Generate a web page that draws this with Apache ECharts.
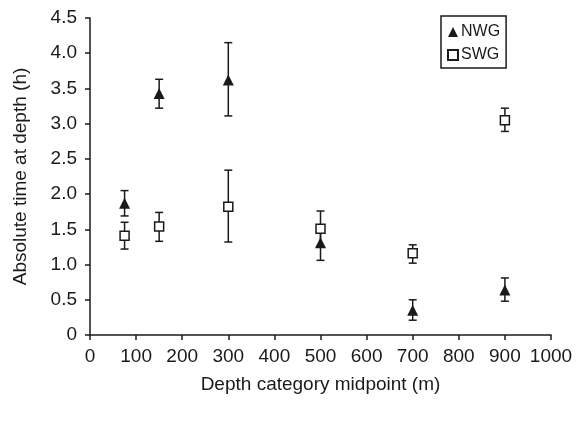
<!DOCTYPE html>
<html>
<head>
<meta charset="utf-8">
<script src="https://cdn.jsdelivr.net/npm/echarts@6/dist/echarts.min.js"></script>
<style>html,body{margin:0;padding:0;background:#fff}#c{width:579px;height:424px}</style>
</head>
<body>
<div id="c"></div>
<script>
const depth = [75, 150, 300, 500, 700, 900];
const nwgMean = [1.87, 3.43, 3.62, 1.31, 0.35, 0.64];
const nwgLow  = [1.69, 3.22, 3.11, 1.06, 0.21, 0.48];
const nwgHigh = [2.05, 3.63, 4.15, 1.56, 0.50, 0.81];
const swgMean = [1.41, 1.54, 1.82, 1.51, 1.16, 3.05];
const swgLow  = [1.22, 1.33, 1.32, 1.26, 1.02, 2.89];
const swgHigh = [1.60, 1.74, 2.34, 1.76, 1.28, 3.22];
const xTicks = [0, 100, 200, 300, 400, 500, 600, 700, 800, 900, 1000];
const yTicks = [0, 0.5, 1.0, 1.5, 2.0, 2.5, 3.0, 3.5, 4.0, 4.5];

const INK = '#1a1a1a';
function errData(low, high) {
  return depth.map((d, i) => [d, low[i], high[i]]);
}
function renderErr(params, api) {
  const x = api.value(0);
  const lo = api.coord([x, api.value(1)]);
  const hi = api.coord([x, api.value(2)]);
  const hw = 4;
  const st = { stroke: INK, lineWidth: 1.5, fill: null };
  return {
    type: 'group',
    children: [
      { type: 'line', shape: { x1: lo[0], y1: lo[1], x2: hi[0], y2: hi[1] }, style: st },
      { type: 'line', shape: { x1: lo[0] - hw, y1: lo[1], x2: lo[0] + hw, y2: lo[1] }, style: st },
      { type: 'line', shape: { x1: hi[0] - hw, y1: hi[1], x2: hi[0] + hw, y2: hi[1] }, style: st }
    ]
  };
}
const font = 'Liberation Sans, Arial, Helvetica, sans-serif';
const chart = echarts.init(document.getElementById('c'));
chart.setOption({
  animation: false,
  backgroundColor: '#fff',
  textStyle: { fontFamily: font },
  grid: { left: 90, right: 28, top: 18, bottom: 89 },
  legend: {
    data: ['NWG', 'SWG'],
    orient: 'vertical',
    left: 441, top: 16,
    padding: [8, 6, 5, 6],
    itemWidth: 10, itemHeight: 10, itemGap: 7,
    borderColor: INK, borderWidth: 1.5, borderRadius: 0,
    textStyle: { fontFamily: font, fontSize: 16, color: INK, padding: [0, 0, 0, -2] }
  },
  xAxis: {
    type: 'value', min: 0, max: 1000, interval: 100,
    name: 'Depth category midpoint (m)', nameLocation: 'middle', nameGap: 40,
    nameTextStyle: { fontFamily: font, fontSize: 19, color: INK },
    axisLine: { show: true, lineStyle: { color: INK, width: 1.5 } },
    axisTick: { show: true, length: 5, lineStyle: { color: INK, width: 1.5 } },
    axisLabel: { fontFamily: font, fontSize: 19, color: INK, margin: 12,
      formatter: v => xTicks.includes(v) ? String(v) : '' },
    splitLine: { show: false }
  },
  yAxis: {
    type: 'value', min: 0, max: 4.5, interval: 0.5,
    name: 'Absolute time at depth (h)', nameLocation: 'middle', nameGap: 60, nameRotate: 90,
    nameTextStyle: { fontFamily: font, fontSize: 19, color: INK },
    axisLine: { show: true, lineStyle: { color: INK, width: 1.5 } },
    axisTick: { show: true, length: 5, lineStyle: { color: INK, width: 1.5 } },
    axisLabel: { fontFamily: font, fontSize: 19, color: INK, margin: 13,
      formatter: v => { const t = yTicks.find(y => Math.abs(y - v) < 1e-9); return t === undefined ? '' : (t === 0 ? '0' : t.toFixed(1)); } },
    splitLine: { show: false }
  },
  series: [
    { name: 'NWG-err', type: 'custom', renderItem: renderErr, data: errData(nwgLow, nwgHigh), z: 2, silent: true },
    { name: 'SWG-err', type: 'custom', renderItem: renderErr, data: errData(swgLow, swgHigh), z: 2, silent: true },
    { name: 'NWG', type: 'scatter', symbol: 'triangle', symbolSize: [11, 11],
      itemStyle: { color: INK, opacity: 1 },
      data: depth.map((d, i) => [d, nwgMean[i]]), z: 5 },
    { name: 'SWG', type: 'scatter', symbol: 'rect', symbolSize: [9, 9],
      itemStyle: { color: '#fff', borderColor: INK, borderWidth: 1.5, opacity: 1 },
      data: depth.map((d, i) => [d, swgMean[i]]), z: 5 }
  ]
});
</script>
</body>
</html>
